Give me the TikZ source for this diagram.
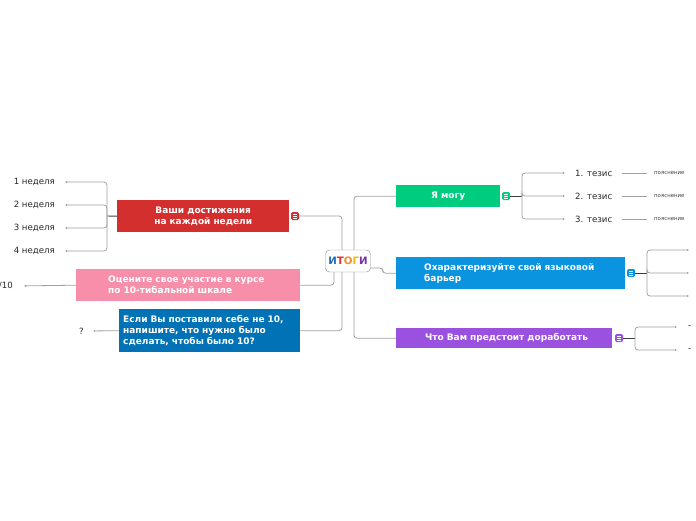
\documentclass[tikz,border=0pt]{standalone}
\usepackage{fontspec}
\setmainfont{DejaVu Sans}
\usetikzlibrary{arrows.meta}
\definecolor{boxRed}{RGB}{211,47,47}
\definecolor{boxPink}{RGB}{247,143,171}
\definecolor{boxNavy}{RGB}{0,114,181}
\definecolor{boxGreen}{RGB}{0,204,128}
\definecolor{boxBlue}{RGB}{10,148,224}
\definecolor{boxPurple}{RGB}{155,81,224}
\definecolor{lineGray}{RGB}{160,160,160}
\definecolor{stemGray}{RGB}{60,60,60}
\tikzset{
  topic/.style={anchor=north west,text=white,inner ysep=0pt,
    font=\bfseries\fontsize{9}{11}\selectfont},
  noteicon/.style={minimum size=8pt,inner sep=0pt,rounded corners=1.5pt,
    path picture={\foreach \dy in {-2,0,2}
      \draw[white,line width=0.5pt] ([xshift=-2pt,yshift=\dy pt]path picture bounding box.center) -- ++(4pt,0);}},
  leaf/.style={inner sep=2pt,font=\fontsize{8.6}{10}\selectfont,text=black!85},
  tiny/.style={inner sep=2pt,font=\fontsize{5.4}{6}\selectfont,text=black!75},
  link/.style={draw=lineGray,line width=0.8pt,rounded corners=3pt},
  stem/.style={draw=stemGray,line width=0.9pt},
  tip/.style={-{Latex[length=2pt,width=2pt]}}
}
\begin{document}
\begin{tikzpicture}[x=1pt,y=-1pt]
\useasboundingbox (0,0) rectangle (696,520);

% centre
\node[draw=black!45,fill=white,rounded corners=4pt,minimum width=45pt,minimum height=22pt,inner sep=0pt,
  font=\bfseries\fontsize{10.2}{11}\selectfont] (result) at (348,261)
  {\textcolor[RGB]{30,110,190}{И}\textcolor[RGB]{220,50,50}{Т}\textcolor[RGB]{245,140,30}{О}\textcolor[RGB]{240,180,20}{Г}\textcolor[RGB]{120,50,170}{И}};

% left topics
\node[topic,fill=boxRed,text width=164pt,inner xsep=4pt,minimum height=32pt,align=center] (weeks) at (117,200)
  {Ваши достижения\\на каждой недели};
\node[noteicon,fill=boxRed] (weeksIcon) at (295,216) {};
\node[topic,fill=boxPink,text width=160pt,inner xsep=32pt,minimum height=32pt,align=left] (grade) at (76,269)
  {Оцените свое участие в курсе\\по 10-тибальной шкале};
\node[topic,fill=boxNavy,text width=173pt,inner xsep=4pt,minimum height=43pt,align=left] (fix) at (119,309)
  {Если Вы поставили себе не 10,\\напишите, что нужно было\\сделать, чтобы было 10?};

% right topics
\node[topic,fill=boxGreen,text width=96pt,inner xsep=4pt,minimum height=22pt,align=center] (can) at (396,185)
  {Я могу};
\node[noteicon,fill=boxGreen] (canIcon) at (506,196) {};
\node[topic,fill=boxBlue,text width=173pt,inner xsep=28pt,minimum height=32pt,align=left] (barrier) at (396,257)
  {Охарактеризуйте свой языковой\\барьер};
\node[noteicon,fill=boxBlue] (barrierIcon) at (631,273) {};
\node[topic,fill=boxPurple,text width=158pt,inner xsep=29pt,minimum height=20pt,align=left] (todo) at (396,328)
  {\mbox{Что Вам предстоит доработать}};
\node[noteicon,fill=boxPurple] (todoIcon) at (619,338) {};

% links to centre
\draw[link] (weeksIcon.east) -| ([xshift=-6pt]result.north);
\draw[link] (grade.east) -| ([xshift=-14pt]result.south);
\draw[link] (fix.east) -| ([xshift=-6pt]result.south);
\draw[link] ([xshift=6pt]result.north) |- (can.west);
\draw[link] ([yshift=-7pt]result.east) -- ++(12,0) |- (barrier.west);
\draw[link] ([xshift=6pt]result.south) |- (todo.west);

% weeks
\coordinate (weeksFork) at (107,216);
\draw[stem] (weeks.west) -- (weeksFork);
\foreach \n/\y in {1/182,2/205,3/228,4/251}{
  \node[leaf,anchor=east] (week\n) at (57,\y) {\n\ неделя};
  \draw[link,tip,shorten >=8pt] (weeksFork) |- (week\n.east);
}

% grade and fix
\node[leaf,anchor=east] (gradeLeaf) at (15,286) {/10};
\draw[link,tip,shorten >=9pt] (grade.west) -- (gradeLeaf.east);
\node[leaf,anchor=east] (fixLeaf) at (86,331) {?};
\draw[link,tip,shorten >=7pt] (fix.west) -- (fixLeaf.east);

% theses
\coordinate (canFork) at (522,196);
\draw[stem] (canIcon.east) -- (canFork);
\foreach \n/\y in {1/173,2/196,3/219}{
  \node[leaf,anchor=west] (thesis\n) at (573,\y) {\n. тезис};
  \node[tiny,anchor=west] (note\n) at (652,\y) {пояснение};
  \draw[link,tip,shorten >=8pt] (canFork) |- (thesis\n.west);
  \draw[link,shorten <=8pt,shorten >=5pt] (thesis\n.east) -- (note\n.west);
}

% barrier
\coordinate (barrierFork) at (647,273);
\draw[stem] (barrierIcon.east) -- (barrierFork);
\foreach \n/\y in {1/250,2/273,3/296}{
  \coordinate (barrierEnd\n) at (689,\y);
  \draw[link,tip] (barrierFork) |- (barrierEnd\n);
}

% to do
\coordinate (todoFork) at (635,338);
\draw[stem] (todoIcon.east) -- (todoFork);
\foreach \n/\y in {1/327,2/350}{
  \node[leaf,anchor=west] (todoLeaf\n) at (686,\y) {-};
  \draw[link,tip,shorten >=9pt] (todoFork) |- (todoLeaf\n.west);
}
\end{tikzpicture}
\end{document}
